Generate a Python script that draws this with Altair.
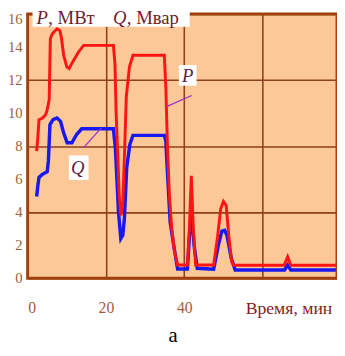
import altair as alt
import pandas as pd

# ---- data ----
p_time = [2.3, 2.6, 2.9, 3.8, 4.6, 5.0, 5.5, 5.8, 6.3, 7.5, 8.2, 8.6, 9.2, 10.0, 10.6, 11.5, 13.0, 14.3,
          21.9, 22.3, 22.6, 23.0, 23.4, 23.8, 24.3, 24.8, 25.2, 26.0, 26.9, 34.9, 35.3, 35.7, 36.2, 36.8,
          37.5, 38.3, 40.8, 41.3, 41.8, 42.3, 42.9, 47.5, 48.5, 49.3, 50.0, 50.7, 51.4, 52.1, 52.6,
          65.5, 66.4, 67.2, 79.0]
p_val = [7.7, 8.5, 9.6, 9.7, 9.9, 10.2, 10.8, 14.5, 14.8, 15.1, 15.0, 14.6, 13.5, 12.8, 12.7, 13.1, 13.7, 14.1,
         14.1, 13.0, 10.0, 7.5, 5.0, 3.8, 4.5, 8.0, 11.0, 12.8, 13.5, 13.5, 11.5, 8.0, 5.0, 3.0,
         1.6, 0.8, 0.8, 3.0, 6.2, 3.0, 0.8, 0.8, 2.5, 4.2, 4.65, 4.4, 2.5, 1.0, 0.78,
         0.78, 1.3, 0.78, 0.78]

q_time = [2.3, 2.6, 2.9, 3.8, 5.0, 5.3, 5.7, 6.5, 7.5, 8.4, 9.2, 10.1, 11.3, 12.5, 13.8,
          21.9, 22.4, 22.8, 23.2, 23.8, 24.3, 24.7, 25.3, 26.1, 26.9, 34.9, 35.3, 35.7, 36.4, 37.3,
          38.3, 40.8, 41.3, 41.8, 42.5, 43.3, 47.5, 48.7, 49.6, 50.3, 50.9, 52.0, 53.0,
          65.6, 66.4, 67.2, 79.0]
q_val = [4.95, 5.6, 6.1, 6.3, 6.45, 7.1, 9.3, 9.6, 9.7, 9.5, 8.8, 8.2, 8.2, 8.7, 9.05,
         9.05, 7.9, 6.0, 4.0, 2.4, 2.6, 3.6, 6.7, 8.1, 8.65, 8.65, 8.3, 6.4, 3.4, 2.0,
         0.55, 0.55, 2.5, 4.05, 2.0, 0.6, 0.55, 2.0, 2.85, 2.9, 2.6, 1.2, 0.5,
         0.5, 0.8, 0.5, 0.5]

x_ticks = [0, 20, 40, 60]
y_ticks = [0, 2, 4, 6, 8, 10, 12, 14, 16]
y_tick_labels = ["0", "2", "4", "6", "8", "10", "12", "14"]

W, H = 315, 269
BROWN = "#A0410D"
GRID = "#8E4218"
LBL = "#A0603C"
FONT = "Liberation Serif, Times New Roman, DejaVu Serif, serif"

df_p = pd.DataFrame({"t": p_time, "v": p_val})
df_q = pd.DataFrame({"t": q_time, "v": q_val})
df_yl = pd.DataFrame({"v": y_ticks[:-1], "lbl": y_tick_labels})
one = pd.DataFrame({"a": [0]})

xs = alt.Scale(domain=[0, 79], nice=False, zero=False)
ys = alt.Scale(domain=[0, 16], nice=False)

x_axis = alt.Axis(values=x_ticks, grid=True, gridColor=GRID, gridWidth=1.6, domain=False, ticks=False,
                  labelExpr="datum.value == 60 ? '' : datum.label", labelFont=FONT, labelFontSize=16,
                  labelColor=LBL, labelPadding=22, labelOverlap=False, title=None)
y_axis = alt.Axis(values=y_ticks, grid=True, gridColor=GRID, gridWidth=1.6, domain=False, ticks=False,
                  labels=False, title=None)

line_q = alt.Chart(df_q).mark_line(color="#1818F0", strokeWidth=3.5).encode(
    x=alt.X("t:Q", scale=xs, axis=x_axis), y=alt.Y("v:Q", scale=ys, axis=y_axis))
line_p = alt.Chart(df_p).mark_line(color="#FF1414", strokeWidth=3).encode(
    x=alt.X("t:Q", scale=xs, axis=x_axis), y=alt.Y("v:Q", scale=ys, axis=y_axis))

ylabels = alt.Chart(df_yl).mark_text(font=FONT, fontSize=15, color=LBL, align="right",
                                     baseline="middle").encode(
    x=alt.value(-5), y=alt.Y("v:Q", scale=ys), text="lbl:N")

border = alt.Chart(one).mark_rect(fill=None, stroke=BROWN, strokeWidth=3).encode(
    x=alt.value(0), x2=alt.value(W), y=alt.value(0), y2=alt.value(H))

def box(x0, x1, y0, y1):
    return alt.Chart(one).mark_rect(fill="white").encode(
        x=alt.value(x0), x2=alt.value(x1), y=alt.value(y0), y2=alt.value(y1))

def txt(s, x, y, size, color, style="normal", align="left", baseline="alphabetic"):
    return alt.Chart(one).mark_text(text=s, font=FONT, fontSize=size, color=color, fontStyle=style,
                                    align=align, baseline=baseline).encode(
        x=alt.value(x), y=alt.value(y))

def leader(x0, y0, x1, y1):
    return alt.Chart(one).mark_rule(color="#9B30D0", strokeWidth=1.3).encode(
        x=alt.value(x0), y=alt.value(y0), x2=alt.value(x1), y2=alt.value(y1))

TC = "#6E1C2C"
layers = [
    line_q, line_p, ylabels, border,
    box(5, 165, -3, 13),
    txt("P", 9, 10, 19, TC, "italic"),
    txt(", МВт", 21, 10, 19, TC),
    txt("Q", 87, 10, 19, TC, "italic"),
    txt(", Мвар", 101, 10, 19, TC),
    txt("16", -5, 5, 15, LBL, "normal", "right", "middle"),
    leader(142, 94, 167, 83),
    box(154, 172, 52, 73),
    txt("P", 163, 63, 19, "#5A1A4A", "italic", "center", "middle"),
    leader(57, 136, 75, 116),
    box(42, 62, 144, 169),
    txt("Q", 51, 157, 19, "#5A1A4A", "italic", "center", "middle"),
    txt("Время, мин", 222, 305, 18, "#8B1A1A"),
    txt("а", 148, 334, 21, "black", "normal", "center"),
]

chart = alt.layer(*layers).properties(
    width=W, height=H,
    autosize=alt.AutoSizeParams(type="none"),
    padding={"left": 20, "top": 3, "right": 0, "bottom": 68},
    background="white",
).configure_view(fill="#FDC898", stroke=None)

chart.save("out.html", embed_options={"renderer": "svg", "actions": False})
